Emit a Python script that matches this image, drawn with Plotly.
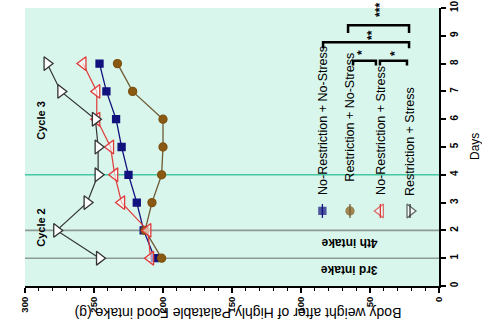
import plotly.graph_objects as go

days = [1, 2, 3, 4, 5, 6, 7, 8]
nr_ns = [206, 214, 219, 225, 230, 234, 241, 246]   # No-Restriction + No-Stress
r_ns = [201, 213, 208, 201, 200, 200, 222, 233]    # Restriction + No-Stress
nr_s = [209, 211, 230, 235, 238, 248, 248, 258]    # No-Restriction + Stress
r_s = [246, 277, 255, 247, 247, 249, 274, 284]     # Restriction + Stress

names = ["No-Restriction + No-Stress", "Restriction + No-Stress",
         "No-Restriction + Stress", "Restriction + Stress"]
x_ticks = [0, 50, 100, 150, 200, 250, 300]
y_ticks = list(range(0, 11))

FONT = "Arial, Liberation Sans, sans-serif"
styles = [
    dict(color="#12127e", symbol="square", size=7, fill="#12127e", line="#12127e", lw=1.3),
    dict(color="#7d5210", symbol="circle", size=8, fill="#8b5a12", line="#6e5a33", lw=1.3),
    dict(color="#e03a3a", symbol="triangle-left", size=12, fill="rgba(255,255,255,0.6)", line="#e03a3a", lw=1.2),
    dict(color="#333333", symbol="triangle-right", size=12, fill="white", line="#333333", lw=1.2),
]
series = [nr_ns, r_ns, nr_s, r_s]

fig = go.Figure()
for vals, st, nm in zip(series, styles, names):
    fig.add_trace(go.Scatter(
        x=vals, y=days, mode="lines+markers", name=nm, showlegend=False,
        line=dict(color=st["line"], width=st["lw"]),
        marker=dict(symbol=st["symbol"], size=st["size"], color=st["fill"],
                    line=dict(color=st["color"], width=1.3)),
    ))

# reference lines (days 1, 2 grey; day 4 teal)
for d, c in [(1, "#8d9994"), (2, "#8d9994"), (4, "#45c7a3")]:
    fig.add_shape(type="line", xref="paper", x0=0, x1=1, yref="y", y0=d, y1=d,
                  line=dict(color=c, width=1.6), layer="below")

ann = []
# intake labels (upside down)
ann.append(dict(x=65, y=0.55, text="<b>3rd intake</b>", textangle=180, font=dict(size=12)))
ann.append(dict(x=65, y=1.52, text="<b>4th intake</b>", textangle=180, font=dict(size=12)))
# cycle labels
ann.append(dict(x=289, y=2.1, text="<b>Cycle 2</b>", textangle=-90, font=dict(size=11)))
ann.append(dict(x=289, y=5.95, text="<b>Cycle 3</b>", textangle=-90, font=dict(size=11)))

# legend (rotated)
leg_x = [84.5, 64.5, 42.5, 21]
leg_text_y = [3.2, 3.7, 3.2, 3.15]
leg_mark_y = 2.7
for lx, ty, st, nm in zip(leg_x, leg_text_y, styles, names):
    ann.append(dict(x=lx, y=ty, text=nm, textangle=-90, yanchor="bottom",
                    font=dict(size=12.5)))
    fig.add_shape(type="line", x0=lx, x1=lx, y0=leg_mark_y - 0.25, y1=leg_mark_y + 0.25,
                  line=dict(color=st["line"], width=1.3))
fig.add_trace(go.Scatter(
    x=leg_x, y=[leg_mark_y] * 4, mode="markers", showlegend=False, hoverinfo="skip",
    marker=dict(symbol=[s["symbol"] for s in styles], size=[s["size"] for s in styles],
                color=[s["fill"] for s in styles],
                line=dict(color=[s["color"] for s in styles], width=1.3))))

# significance brackets
def bracket(x0, x1, yb, yl):
    fig.add_shape(type="path", path=f"M {x0},{yl} L {x0},{yb} L {x1},{yb} L {x1},{yl}",
                  line=dict(color="black", width=2.5))

bracket(65.9, 21.7, 9.38, 9.1)
bracket(84.0, 21.7, 8.77, 8.55)
bracket(62.3, 45.7, 8.1, 7.93)
bracket(42.8, 23.2, 8.1, 7.93)
ann.append(dict(x=42.8, y=9.93, text="<b>***</b>", textangle=-90, font=dict(size=12)))
ann.append(dict(x=48.6, y=9.03, text="<b>**</b>", textangle=-90, font=dict(size=12)))
ann.append(dict(x=55.8, y=8.38, text="<b>*</b>", textangle=-90, font=dict(size=12)))
ann.append(dict(x=31.9, y=8.38, text="<b>*</b>", textangle=-90, font=dict(size=12)))

for a in ann:
    a.setdefault("showarrow", False)
    a.setdefault("xref", "x")
    a.setdefault("yref", "y")
    a.setdefault("xanchor", "center")
    a.setdefault("yanchor", "middle")
    a["font"] = dict(family=FONT, color="black", **a["font"])
    fig.add_annotation(**a)

# axis titles
fig.add_annotation(x=0.515, y=-0.098, xref="paper", yref="paper", showarrow=False,
                   xanchor="center", yanchor="middle",
                   text="Body weight after of Highly Palatable Food intake (g)", textangle=180,
                   font=dict(family=FONT, size=14, color="black"))
fig.add_annotation(x=1.0, xshift=36, y=0.5, xref="paper", yref="paper", showarrow=False,
                   xanchor="center", yanchor="middle",
                   text="Days", textangle=-90,
                   font=dict(family=FONT, size=12, color="black"))

fig.update_layout(
    width=482, height=328,
    margin=dict(l=25, r=43, t=8, b=42),
    paper_bgcolor="white", plot_bgcolor="#d8f6ec",
    font=dict(family=FONT, color="black"),
    xaxis=dict(range=[300, 0], tickvals=x_ticks, ticktext=[f"<b>{v}</b>" for v in x_ticks],
               tickangle=-90, tickfont=dict(size=9.5), showgrid=False, zeroline=False,
               showline=True, linecolor="black", linewidth=2, ticks="outside",
               ticklen=5, tickwidth=2, tickcolor="black", automargin=False,
               minor=dict(dtick=10, ticks="outside", ticklen=3, tickcolor="black", tickwidth=1)),
    yaxis=dict(range=[0, 10], side="right", tickvals=y_ticks,
               ticktext=[f"<b>{v}</b>" for v in y_ticks], tickangle=-90,
               tickfont=dict(size=10), showgrid=False, zeroline=False,
               showline=True, linecolor="black", linewidth=2, ticks="outside",
               ticklen=5, tickwidth=2, tickcolor="black", automargin=False),
)

# remove the browser's default page margin so the 482x328 figure fills the window
fig.write_html("out.html", config={"displayModeBar": False},
               post_script="document.body.style.margin='0';document.body.style.overflow='hidden';")
